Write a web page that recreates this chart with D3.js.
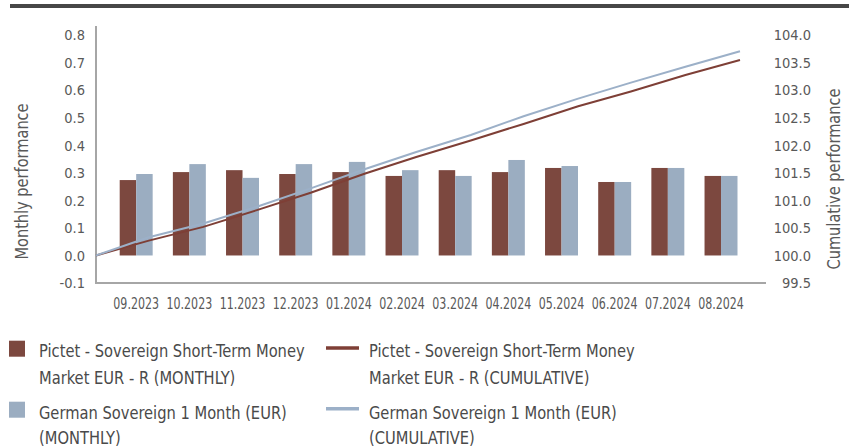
<!DOCTYPE html>
<html>
<head>
<meta charset="utf-8">
<script src="https://cdn.jsdelivr.net/npm/d3@7"></script>
<style>
  html, body { margin: 0; padding: 0; background: #fff; }
  svg text { font-family: "DejaVu Sans Condensed", "DejaVu Sans", sans-serif; }
</style>
</head>
<body>
<div id="container"></div>
<script>
const months = ["09.2023", "10.2023", "11.2023", "12.2023", "01.2024", "02.2024",
    "03.2024", "04.2024", "05.2024", "06.2024", "07.2024", "08.2024"]
const fundMonthly = [0.274, 0.303, 0.310, 0.296, 0.303, 0.289, 0.310, 0.303, 0.318, 0.267, 0.318, 0.289]
const benchMonthly = [0.296, 0.332, 0.282, 0.332, 0.340, 0.310, 0.289, 0.347, 0.325, 0.267, 0.318, 0.289]

const cumDates = ["2023-08-31", "2023-09-30", "2023-10-31", "2023-11-30", "2023-12-31", "2024-01-31",
    "2024-02-29", "2024-03-31", "2024-04-30", "2024-05-31", "2024-06-30", "2024-07-31", "2024-08-31"]
const fundCumulative = [100.00, 100.27, 100.52, 100.82, 101.14, 101.49, 101.79, 102.09, 102.39, 102.71, 102.98, 103.28, 103.55]
const benchCumulative = [100.00, 100.33, 100.58, 100.88, 101.22, 101.57, 101.88, 102.19, 102.53, 102.85, 103.14, 103.43, 103.71]

const leftTicks = [-0.1, 0.0, 0.1, 0.2, 0.3, 0.4, 0.5, 0.6, 0.7, 0.8]
const rightTicks = [99.5, 100.0, 100.5, 101.0, 101.5, 102.0, 102.5, 103.0, 103.5, 104.0]

const legendLines = [
    ["Pictet - Sovereign Short-Term Money", "Market EUR - R (MONTHLY)"],
    ["German Sovereign 1 Month (EUR)", "(MONTHLY)"],
    ["Pictet - Sovereign Short-Term Money", "Market EUR - R (CUMULATIVE)"],
    ["German Sovereign 1 Month (EUR)", "(CUMULATIVE)"]
]

const width = 849, height = 448
const plot = {left: 96, right: 766, top: 26, bottom: 283}
const barColor = ["#7c483f", "#9badc1"]
const lineColor = ["#7e3f36", "#9cb0c8"]
const axisColor = "#a6a6a6"
const textColor = "#595959"

const svg = d3.select("#container").append("svg")
    .attr("width", width)
    .attr("height", height)

// dark rule along the top
svg.append("rect")
    .attr("x", 10).attr("y", 4)
    .attr("width", width - 10).attr("height", 4)
    .attr("fill", "#474747")

const yLeft = d3.scaleLinear().domain([-0.1, 0.8]).range([plot.bottom, 35.3])
const yRight = d3.scaleLinear().domain([99.5, 104.0]).range([plot.bottom, 35.3])

const x0 = d3.scaleBand()
    .domain(months)
    .range([109.6, 747.6])
    .paddingInner(0.38)
    .paddingOuter(0.19)
const x1 = d3.scaleBand()
    .domain([0, 1])
    .range([0, x0.bandwidth()])

const parse = d3.timeParse("%Y-%m-%d")
const xTime = d3.scaleTime()
    .domain([parse(cumDates[0]), parse(cumDates[cumDates.length - 1])])
    .range([plot.left, 740])

// bars
const barData = months.map((m, i) => ({month: m, values: [fundMonthly[i], benchMonthly[i]]}))
svg.append("g")
    .selectAll("g")
    .data(barData)
    .join("g")
    .attr("transform", d => `translate(${x0(d.month)},0)`)
    .selectAll("rect")
    .data(d => d.values.map((v, k) => ({k, v})))
    .join("rect")
    .attr("x", d => x1(d.k))
    .attr("width", x1.bandwidth())
    .attr("y", d => Math.min(yLeft(d.v), yLeft(0)))
    .attr("height", d => Math.abs(yLeft(d.v) - yLeft(0)))
    .attr("fill", d => barColor[d.k])

// axes
const leftAxis = svg.append("g")
    .attr("transform", `translate(${plot.left},0)`)
    .call(d3.axisLeft(yLeft).tickValues(leftTicks).tickSize(0).tickPadding(11)
        .tickFormat(d => d.toFixed(1)))
leftAxis.select(".domain").remove()

const rightAxis = svg.append("g")
    .attr("transform", `translate(${plot.right},0)`)
    .call(d3.axisRight(yRight).tickValues(rightTicks).tickSize(0).tickPadding(45)
        .tickFormat(d => d.toFixed(1)))
rightAxis.select(".domain").remove()
rightAxis.selectAll("text").attr("text-anchor", "end")

const bottomAxis = svg.append("g")
    .attr("transform", `translate(0,${plot.bottom})`)
    .call(d3.axisBottom(x0).tickSize(0).tickPadding(15.5))
bottomAxis.select(".domain").remove()

svg.selectAll(".tick text").attr("fill", textColor)
leftAxis.selectAll("text").style("font-size", "14.5px")
rightAxis.selectAll("text").style("font-size", "14.5px")
// the source font is narrower than DejaVu Condensed: squeeze horizontally
bottomAxis.selectAll("text")
    .style("font-size", "15px")
    .attr("transform", "scale(0.82,1)")

svg.append("line")
    .attr("x1", plot.left).attr("x2", plot.left)
    .attr("y1", plot.top).attr("y2", plot.bottom + 1)
    .attr("stroke", axisColor).attr("stroke-width", 2)
svg.append("line")
    .attr("x1", plot.left).attr("x2", plot.right)
    .attr("y1", plot.bottom).attr("y2", plot.bottom)
    .attr("stroke", axisColor).attr("stroke-width", 2)

// axis titles
svg.append("text")
    .attr("transform", `translate(28,${(103 + 260) / 2}) rotate(-90) scale(0.9,1)`)
    .attr("text-anchor", "middle")
    .attr("fill", textColor)
    .style("font-size", "18px")
    .text("Monthly performance")
svg.append("text")
    .attr("transform", `translate(840,${(90 + 268) / 2}) rotate(-90) scale(0.9,1)`)
    .attr("text-anchor", "middle")
    .attr("fill", textColor)
    .style("font-size", "18px")
    .text("Cumulative performance")

// cumulative lines
const line = d3.line()
    .x(d => xTime(d.date))
    .y(d => yRight(d.value))
const cumSeries = [fundCumulative, benchCumulative].map(vals =>
    vals.map((v, i) => ({date: parse(cumDates[i]), value: v})))
svg.append("g")
    .attr("fill", "none")
    .selectAll("path")
    .data(cumSeries)
    .join("path")
    .attr("stroke", (d, i) => lineColor[i])
    .attr("stroke-width", 2)
    .attr("d", line)

// legend
const legendPos = [
    {x: 9, y: 340.7, kind: "rect", color: barColor[0]},
    {x: 9, y: 401.7, kind: "rect", color: barColor[1]},
    {x: 326, y: 348, kind: "line", color: lineColor[0]},
    {x: 326, y: 408.7, kind: "line", color: lineColor[1]}
]
const baselines = [356.5, 419]
const lineGap = [27.4, 25]
const legend = svg.append("g")
legendLines.forEach((lines, i) => {
    const p = legendPos[i]
    if (p.kind === "rect") {
        legend.append("rect")
            .attr("x", p.x).attr("y", p.y)
            .attr("width", 16).attr("height", 16)
            .attr("fill", p.color)
    } else {
        legend.append("line")
            .attr("x1", p.x).attr("x2", p.x + 33)
            .attr("y1", p.y).attr("y2", p.y)
            .attr("stroke", p.color).attr("stroke-width", 3.5)
    }
    const tx = p.kind === "rect" ? 39 : 369
    const t = legend.append("text")
        .attr("transform", `translate(${tx},${baselines[i % 2]}) scale(0.96,1)`)
        .attr("fill", "#4a4a4a")
        .style("font-size", "17px")
    lines.forEach((s, j) => {
        t.append("tspan").attr("x", 0).attr("y", j * lineGap[i % 2]).text(s)
    })
})
</script>
</body>
</html>
